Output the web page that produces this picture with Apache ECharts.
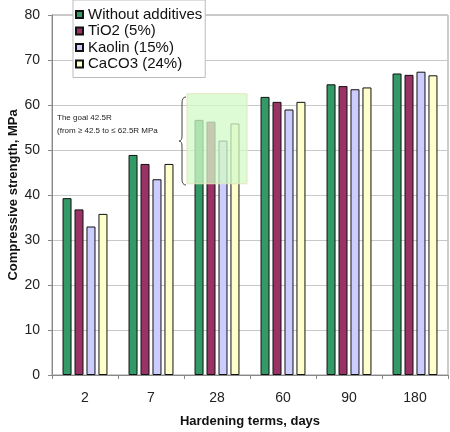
<!DOCTYPE html>
<html>
<head>
<meta charset="utf-8">
<script src="https://cdn.jsdelivr.net/npm/echarts@6/dist/echarts.min.js"></script>
<style>html,body{margin:0;padding:0;background:#fff;}#c{width:450px;height:432px;}</style>
</head>
<body>
<div id="c"></div>
<script>
const categories = ['2', '7', '28', '60', '90', '180'];
const seriesNames = ['Without additives', 'TiO2 (5%)', 'Kaolin (15%)', 'CaCO3 (24%)'];
const withoutAdditives = [39.3, 48.9, 56.7, 61.8, 64.6, 67.0];
const tio2 = [36.8, 46.9, 56.3, 60.7, 64.2, 66.7];
const kaolin = [33.0, 43.5, 52.1, 59.0, 63.5, 67.4];
const caco3 = [35.8, 46.9, 55.9, 60.7, 63.9, 66.6];
const goalRange = [42.5, 62.5];
const goalCategory = '28';
const yTicks = { min: 0, max: 80, interval: 10 };

const colors = ['#339966', '#993366', '#ccccff', '#ffffcc'];
const values = [withoutAdditives, tio2, kaolin, caco3];
const font = '"Liberation Sans", Arial, sans-serif';

const chart = echarts.init(document.getElementById('c'));
const series = seriesNames.map((n, i) => ({
  name: n,
  type: 'bar',
  data: values[i],
  barWidth: 9,
  barGap: '33%',
  itemStyle: { color: colors[i], borderColor: '#111', borderWidth: 1 },
  z: 2
}));
series.push({
  name: 'goal',
  type: 'custom',
  z: 5,
  silent: true,
  data: [[categories.indexOf(goalCategory), goalRange[0], goalRange[1]]],
  renderItem: function (params, api) {
    const top = api.coord([api.value(0), api.value(2)]);
    const bottom = api.coord([api.value(0), api.value(1)]);
    const w = api.size([1, 0])[0] * 0.91;
    return {
      type: 'rect',
      shape: { x: top[0] - w / 2, y: top[1], width: w, height: bottom[1] - top[1] },
      style: { fill: 'rgba(210,250,200,0.76)', stroke: '#e2e6bc', lineWidth: 1 }
    };
  }
});

const braceStyle = { stroke: '#444', lineWidth: 1, fill: 'none' };
chart.setOption({
  animation: false,
  textStyle: { fontFamily: font },
  grid: { left: 52, right: 2, top: 15, bottom: 57, outerBoundsMode: 'none', containLabel: false, show: true, borderColor: '#999', borderWidth: 1, backgroundColor: 'transparent' },
  legend: {
    data: seriesNames,
    orient: 'vertical',
    left: 73, top: 0,
    backgroundColor: '#fff',
    borderColor: '#bbb', borderWidth: 1,
    padding: [7, 3, 6, 2],
    itemWidth: 7, itemHeight: 7, itemGap: 1.5,
    icon: 'rect',
    textStyle: { fontSize: 15, lineHeight: 15, color: '#111', fontFamily: font },
    z: 10
  },
  xAxis: {
    type: 'category',
    data: categories,
    name: 'Hardening terms, days',
    nameLocation: 'middle',
    nameGap: 40,
    nameMoveOverlap: false,
    nameTextStyle: { fontSize: 13, fontWeight: 'bold', color: '#111' },
    axisLine: { lineStyle: { color: '#888' } },
    axisTick: { show: true, length: 4, lineStyle: { color: '#888' } },
    axisLabel: { fontSize: 14, color: '#222', margin: 16 }
  },
  yAxis: {
    type: 'value',
    min: yTicks.min, max: yTicks.max, interval: yTicks.interval,
    name: 'Compressive strength, MPa',
    nameLocation: 'middle',
    nameGap: 32,
    nameMoveOverlap: false,
    nameTextStyle: { fontSize: 13, fontWeight: 'bold', color: '#111' },
    axisLine: { show: true, lineStyle: { color: '#888' } },
    axisTick: { show: true, length: 4, lineStyle: { color: '#888' } },
    axisLabel: { fontSize: 14, color: '#222', margin: 12 },
    splitLine: { lineStyle: { color: '#c8c8c8' } }
  },
  series: series,
  graphic: [
    { type: 'text', x: 57, y: 114, style: { text: 'The goal 42.5R', font: '8px ' + font, fill: '#222' }, z: 20 },
    { type: 'text', x: 57, y: 127, style: { text: '(from \u2265 42.5 to \u2264 62.5R MPa', font: '8px ' + font, fill: '#222' }, z: 20 },
    { type: 'bezierCurve', z: 20, shape: { x1: 186, y1: 97, cpx1: 182, cpy1: 97, x2: 182, y2: 103 }, style: braceStyle },
    { type: 'line', z: 20, shape: { x1: 182, y1: 103, x2: 182, y2: 136 }, style: braceStyle },
    { type: 'bezierCurve', z: 20, shape: { x1: 182, y1: 136, cpx1: 182, cpy1: 141, x2: 179, y2: 141 }, style: braceStyle },
    { type: 'bezierCurve', z: 20, shape: { x1: 179, y1: 141, cpx1: 182, cpy1: 141, x2: 182, y2: 146 }, style: braceStyle },
    { type: 'line', z: 20, shape: { x1: 182, y1: 146, x2: 182, y2: 179 }, style: braceStyle },
    { type: 'bezierCurve', z: 20, shape: { x1: 182, y1: 179, cpx1: 182, cpy1: 185, x2: 186, y2: 185 }, style: braceStyle }
  ]
});
</script>
</body>
</html>
